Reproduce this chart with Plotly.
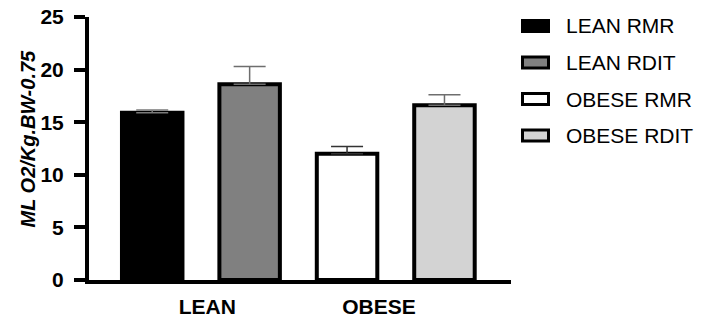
import plotly.graph_objects as go

# Series (one bar each) and their values
series = ["LEAN RMR", "LEAN RDIT", "OBESE RMR", "OBESE RDIT"]
values = [15.9, 18.6, 12.0, 16.6]
errors = [0.25, 1.7, 0.7, 1.0]
fills = ["#000000", "#808080", "#ffffff", "#d3d3d3"]
err_colors = ["#7a7a7a", "#6e6e6e", "#333333", "#6e6e6e"]

# Group labels on the x axis
group_labels = ["LEAN", "OBESE"]
y_ticks = [0, 5, 10, 15, 20, 25]

# Layout geometry
W, H = 702, 322
L, R, T, B = 89, 191, 17, 42
x_pos = [1, 2, 3, 4]
label_pos = [1.566, 3.328]
bar_w = 0.621
FONT = "Liberation Sans, Arial, sans-serif"

fig = go.Figure()
for name, xp, v, e, c, ec in zip(series, x_pos, values, errors, fills, err_colors):
    fig.add_trace(go.Bar(
        x=[xp], y=[v], name=name, width=bar_w,
        marker=dict(color=c, line=dict(color="#000000", width=4)),
        error_y=dict(type="data", array=[e], arrayminus=[0], symmetric=False,
                     color=ec, thickness=1.5, width=16),
        showlegend=False,
    ))

# Hand-built legend: wide swatches with text on the right
pw, ph = W - L - R, H - T - B
def px_x(px):
    return (px - L) / pw
def px_y(py):
    return (H - B - py) / ph

shapes, annotations = [], []
for i, (name, c) in enumerate(zip(series, fills)):
    cy = 26 + 36.5 * i
    shapes.append(dict(type="rect", xref="paper", yref="paper",
                       x0=px_x(522.5), x1=px_x(548.5),
                       y0=px_y(cy + 5.5), y1=px_y(cy - 5.5),
                       fillcolor=c, line=dict(color="#000000", width=3)))
    annotations.append(dict(text=name, xref="paper", yref="paper",
                            x=px_x(564), y=px_y(cy), xanchor="left", yanchor="middle",
                            showarrow=False,
                            font=dict(family=FONT, size=21, color="#000000")))

# Y axis title
annotations.append(dict(text="<b><i>ML O2/Kg.BW-0.75</i></b>", xref="paper", yref="paper",
                        x=px_x(27.5), y=px_y(139), xanchor="center", yanchor="middle",
                        textangle=-90, showarrow=False,
                        font=dict(family=FONT, size=20, color="#000000")))

fig.update_layout(
    width=W, height=H,
    margin=dict(l=L, r=R, t=T, b=B, pad=0, autoexpand=False),
    paper_bgcolor="#ffffff", plot_bgcolor="#ffffff",
    barmode="overlay",
    shapes=shapes, annotations=annotations,
    xaxis=dict(range=[0.351, 4.683], showgrid=False, zeroline=False, automargin=False,
               showline=True, linecolor="#000000", linewidth=4,
               tickvals=label_pos, ticktext=[f"<b>{g}</b>" for g in group_labels],
               ticks="", ticklabelstandoff=5,
               tickfont=dict(family=FONT, size=21, color="#000000")),
    yaxis=dict(range=[0, 25], showgrid=False, zeroline=False, automargin=False,
               showline=True, linecolor="#000000", linewidth=4,
               tickvals=y_ticks, ticktext=[f"<b>{t}</b>" for t in y_ticks],
               ticks="outside", ticklen=11, tickwidth=4, tickcolor="#000000",
               ticklabelstandoff=6,
               tickfont=dict(family=FONT, size=21, color="#000000")),
)

fig.write_html("out.html")
